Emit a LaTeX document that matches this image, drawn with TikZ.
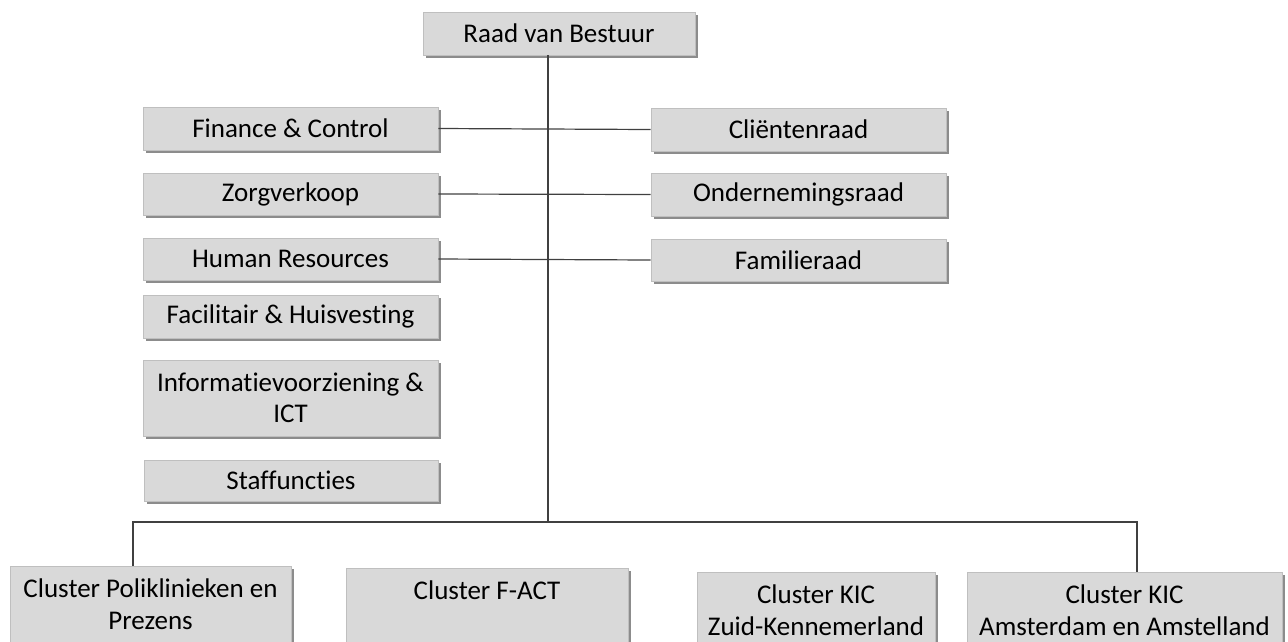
\documentclass[tikz,border=0pt]{standalone}
\usepackage{fontspec}
\setmainfont{Carlito}[Ligatures=NoCommon]
\usetikzlibrary{shadows}
\definecolor{boxgray}{HTML}{D9D9D9}
\definecolor{edgegray}{HTML}{BFBFBF}
\definecolor{linegray}{HTML}{404040}
\begin{document}
\begin{tikzpicture}
[x=1pt,y=-1pt,%
 unitbox/.style={rectangle,fill=boxgray,draw=edgegray,line width=0.8pt,
   inner sep=0pt,align=center,text=black,
   font=\fontsize{27}{31}\selectfont,
   drop shadow={shadow xshift=2.5pt,shadow yshift=-3pt,opacity=0.45,fill=black}},%
 clusterbox/.style={unitbox,font=\fontsize{27}{32}\selectfont},%
 linkstyle/.style={draw=linegray,line width=1.2pt}]
\useasboundingbox (0,0) rectangle (1288,641);
%% top
\node[unitbox,minimum width=272,minimum height=43] (rvb) at (559,33.5) {Raad van Bestuur};
%% staff units, left column
\node[unitbox,minimum width=295,minimum height=43] (fin) at (290.5,128.5) {Finance \& Control};
\node[unitbox,minimum width=295,minimum height=42] (zorg) at (290.5,194) {Zorgverkoop};
\node[unitbox,minimum width=295,minimum height=42] (hr) at (290.5,259) {Human Resources};
\node[unitbox,minimum width=295,minimum height=43] (fac) at (290.5,316.5) {Facilitair \& Huisvesting};
\node[unitbox,minimum width=295,minimum height=76] (ict) at (290.5,398) {Informatievoorziening \&\\ICT};
\node[unitbox,minimum width=294,minimum height=41] (staf) at (291,480.5) {Staffuncties};
%% councils, right column
\node[unitbox,minimum width=295,minimum height=43] (client) at (798.5,129.5) {Cliëntenraad};
\node[unitbox,minimum width=295,minimum height=43] (ondraad) at (798.5,194.5) {Ondernemingsraad};
\node[unitbox,minimum width=295,minimum height=42] (fam) at (798.5,260) {Familieraad};
%% clusters
\node[clusterbox,minimum width=281,minimum height=76] (cpoli) at (150.5,604) {Cluster Poliklinieken en\\Prezens};
\node[clusterbox,minimum width=282,minimum height=76] (cfact) at (487,606) {Cluster F-ACT\\\mbox{}};
\node[clusterbox,minimum width=238,minimum height=76] (czk) at (816,610) {Cluster KIC\\Zuid-Kennemerland};
\node[clusterbox,minimum width=315,minimum height=76] (cama) at (1124.5,610) {Cluster KIC\\Amsterdam en Amstelland};
%% connectors
\coordinate (trunk) at (548,522);
\coordinate (lft) at (133,522);
\coordinate (rgt) at (1137,522);
\draw[linkstyle] (rvb.south -| trunk) -- (trunk);
\draw[linkstyle] (cpoli.north -| lft) -- (lft) -- (rgt) -- (cama.north -| rgt);
\draw[linkstyle] (fin.east) -- (client.west);
\draw[linkstyle] (zorg.east) -- (ondraad.west);
\draw[linkstyle] (hr.east) -- (fam.west);
\end{tikzpicture}
\end{document}
